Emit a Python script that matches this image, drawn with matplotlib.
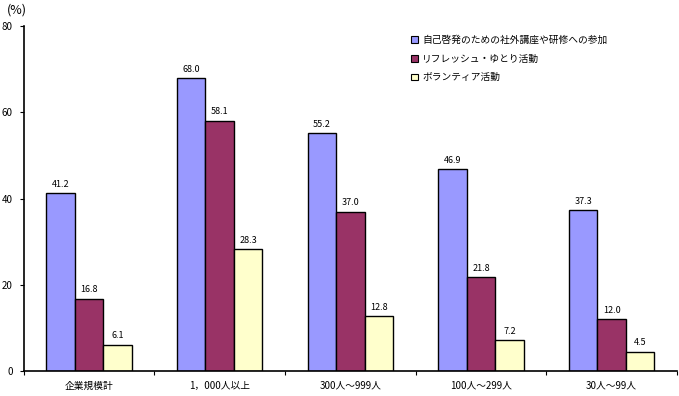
import matplotlib
matplotlib.use("Agg")
import matplotlib.pyplot as plt
import numpy as np

plt.rcParams['font.family'] = ['Noto Sans CJK JP', 'DejaVu Sans']

categories = ["企業規模計", "1，000人以上", "300人～999人", "100人～299人", "30人～99人"]
series_names = ["自己啓発のための社外講座や研修への参加", "リフレッシュ・ゆとり活動", "ボランティア活動"]
self_dev = [41.2, 68.0, 55.2, 46.9, 37.3]
refresh = [16.8, 58.1, 37.0, 21.8, 12.0]
volunteer = [6.1, 28.3, 12.8, 7.2, 4.5]
yticks = [0, 20, 40, 60, 80]

colors = ["#9999FF", "#993366", "#FFFFCC"]

fig = plt.figure(figsize=(6.79, 3.96), dpi=100)
ax = fig.add_axes([0.035, 0.063, 0.962, 0.871])

x = np.arange(len(categories))
w = 0.218
data = [self_dev, refresh, volunteer]
for i, (vals, c, name) in enumerate(zip(data, colors, series_names)):
    pos = x + (i - 1) * w
    ax.bar(pos, vals, w, color=c, edgecolor="black", linewidth=1.0, label=name)
    for p, v in zip(pos, vals):
        ax.text(p, v + 1.0, f"{v:.1f}", ha="center", va="bottom", fontsize=6.5)

ax.set_xlim(-0.5, len(categories) - 0.5)
ax.set_ylim(0, 80)
ax.set_yticks(yticks)
ax.set_yticklabels([str(t) for t in yticks], fontsize=7)
ax.set_xticks(np.arange(len(categories) + 1) - 0.5)
ax.set_xticklabels([])
ax.set_xticks(x, minor=True)
ax.set_xticklabels(categories, minor=True, fontsize=7)
ax.tick_params(axis="x", which="minor", length=0, pad=7)
ax.tick_params(axis="x", which="major", length=3, direction="out")
ax.tick_params(axis="y", length=3, direction="out", pad=5)
for s in ["top", "right"]:
    ax.spines[s].set_visible(False)
ax.spines["left"].set_linewidth(1.2)
ax.spines["bottom"].set_linewidth(1.2)

fig.text(0.010, 0.990, "(%)", fontsize=9, ha="left", va="top")

leg = ax.legend(loc="upper left", bbox_to_anchor=(0.58, 1.0), frameon=False, fontsize=7,
                handlelength=0.7, handleheight=0.7, handletextpad=0.4, labelspacing=0.9)
for h in leg.legend_handles:
    h.set_linewidth(0.8)

fig.savefig("out.png", dpi=100)
